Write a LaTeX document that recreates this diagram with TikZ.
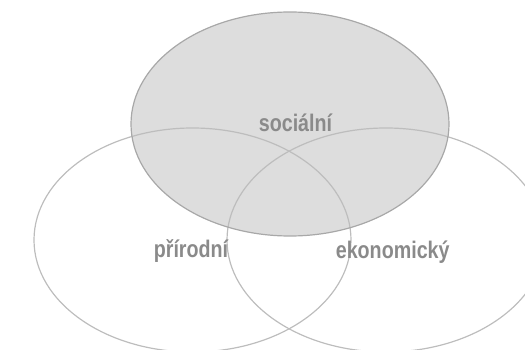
\documentclass[tikz,border=0pt]{standalone}
\usepackage{fontspec}
\setmainfont{Liberation Sans}
\newfontfamily\narrowfont[FakeStretch=0.82]{Liberation Sans}
\definecolor{topfill}{HTML}{DDDDDD}
\definecolor{topline}{HTML}{A8A8A8}
\definecolor{ringline}{HTML}{BDBDBD}
\definecolor{labelgray}{HTML}{8A8A8A}
\tikzset{
  ring/.style={draw=ringline, line width=1.2pt},
  lbl/.style={text=labelgray, font=\narrowfont\fontsize{24}{28}\selectfont\bfseries, inner sep=0pt, anchor=base}
}
\begin{document}
\begin{tikzpicture}[x=1pt,y=-1pt]
\useasboundingbox (0,0) rectangle (525,350);
\begin{scope}
\clip (0,0) rectangle (525,350);
\fill[topfill] (290,124) ellipse [x radius=159, y radius=112];
\draw[ring] (192.5,240) ellipse [x radius=158.5, y radius=112];
\draw[ring] (386,240) ellipse [x radius=159, y radius=112];
\draw[draw=topline, line width=1.2pt] (290,124) ellipse [x radius=159, y radius=112];
\end{scope}
\node[lbl] (soc) at (295.5,131.7) {sociální};
\node[lbl] (pri) at (191,257.7) {přírodní};
\node[lbl] (eko) at (392.7,258.3) {ekonomický};
\end{tikzpicture}
\end{document}
